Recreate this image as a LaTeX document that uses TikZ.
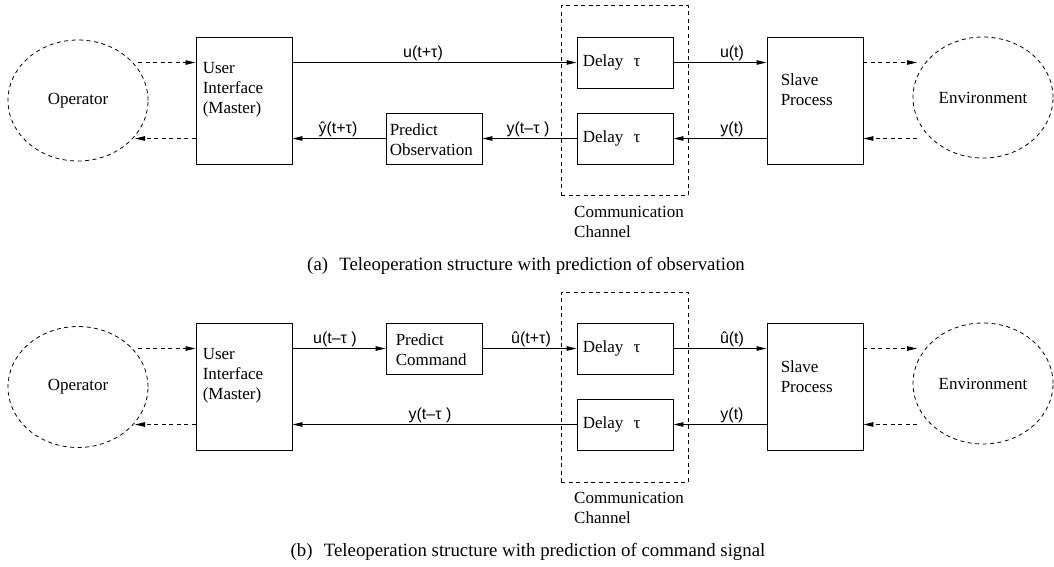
\documentclass[tikz,border=0pt]{standalone}
\usepackage{fontspec}
\setmainfont{Liberation Serif}
\newfontfamily\sigfont{Liberation Sans}
\usetikzlibrary{arrows.meta,shapes.geometric}

\begin{document}
\begin{tikzpicture}[x=1pt,y=-1pt,
  blockbox/.style={draw, line width=0.9pt, inner sep=0pt, minimum width=96pt},
  tallbox/.style={blockbox, minimum height=127pt},
  flatbox/.style={blockbox, minimum height=51pt},
  party/.style={draw, ellipse, dash pattern=on 4pt off 3.5pt, line width=0.8pt,
    minimum width=140pt, minimum height=121pt, inner sep=0pt, font=\fontsize{17}{20}\selectfont},
  chanbox/.style={draw, dash pattern=on 4pt off 3.5pt, line width=0.8pt,
    minimum width=127pt, minimum height=190pt, inner sep=0pt},
  sig/.style={-{Triangle[length=10pt,width=4.5pt]}, line width=0.9pt},
  dsig/.style={sig, dash pattern=on 4pt off 3.5pt},
  boxtext/.style={anchor=west, align=left, inner sep=0pt, font=\fontsize{17}{20}\selectfont},
  siglabel/.style={anchor=base, inner sep=0pt, font=\sigfont\fontsize{16}{20}\selectfont},
  caption/.style={anchor=base, inner sep=0pt, font=\fontsize{18.8}{24}\selectfont}]
\useasboundingbox (0,0) rectangle (1054,566);

% ---------- (a) prediction of observation ----------
\node[party] (opA) at (78,100.5) {Operator};
\node[tallbox] (uiA) at (244,100.5) {};
\node[boxtext] (uiTA) at ([xshift=7pt,yshift=10.5pt]uiA.west) {User\\Interface\\(Master)};
\node[flatbox] (predA) at (434,138.5) {};
\node[boxtext] (predTA) at ([xshift=4pt,yshift=-1.5pt]predA.west) {Predict\\Observation};
\node[chanbox] (chanA) at (624.5,100.5) {};
\node[flatbox] (dlyUA) at (625,62.5) {};
\node[boxtext] (dlyUTA) at ([xshift=6pt]dlyUA.west) {Delay\hspace{0.6em}τ};
\node[flatbox] (dlyDA) at (625,138.5) {};
\node[boxtext] (dlyDTA) at ([xshift=6pt]dlyDA.west) {Delay\hspace{0.6em}τ};
\node[boxtext, anchor=north west] (chanTA) at (574,206) {Communication\\Channel};
\node[tallbox] (slvA) at (815,100.5) {};
\node[boxtext] (slvTA) at ([xshift=14pt,yshift=10.5pt]slvA.west) {Slave\\Process};
\node[party] (envA) at (983,97.5) {Environment};

\coordinate (opOutA) at (138,62.5);
\coordinate (opInA) at (135,138.5);
\coordinate (envInA) at (917,62.5);
\coordinate (envOutA) at (917,138.5);

\draw[dsig] (opOutA) -- (opOutA -| uiA.west);
\draw[dsig] (opInA -| uiA.west) -- (opInA);
\draw[sig] (uiA.east |- dlyUA) -- (dlyUA.west);
\draw[sig] (dlyUA.east) -- (dlyUA.east -| slvA.west);
\draw[sig] (dlyDA.east -| slvA.west) -- (dlyDA.east);
\draw[sig] (dlyDA.west) -- (predA.east);
\draw[sig] (predA.west) -- (predA.west -| uiA.east);
\draw[dsig] (envInA -| slvA.east) -- (envInA);
\draw[dsig] (envOutA) -- (envOutA -| slvA.east);

\node[siglabel] (lUA) at (423,57) {u(t+τ)};
\node[siglabel] (lYhA) at (338,133) {ŷ(t+τ)};
\node[siglabel] (lYdA) at (528,133) {y(t–τ )};
\node[siglabel] (lUtA) at (732,57) {u(t)};
\node[siglabel] (lYtA) at (732,133) {y(t)};

\node[caption] (capA) at (526,270.5) {(a)\hspace{0.6em}Teleoperation structure with prediction of observation};

% ---------- (b) prediction of command signal ----------
\node[party] (opB) at (78,387) {Operator};
\node[tallbox] (uiB) at (244,386.5) {};
\node[boxtext] (uiTB) at ([xshift=7pt,yshift=10.5pt]uiB.west) {User\\Interface\\(Master)};
\node[flatbox] (predB) at (434,348.5) {};
\node[boxtext] (predTB) at ([xshift=10pt,yshift=-1.5pt]predB.west) {Predict\\Command};
\node[chanbox] (chanB) at (624.5,387) {};
\node[flatbox] (dlyUB) at (625,348.5) {};
\node[boxtext] (dlyUTB) at ([xshift=6pt]dlyUB.west) {Delay\hspace{0.6em}τ};
\node[flatbox] (dlyDB) at (625,424.5) {};
\node[boxtext] (dlyDTB) at ([xshift=6pt]dlyDB.west) {Delay\hspace{0.6em}τ};
\node[boxtext, anchor=north west] (chanTB) at (574,492.5) {Communication\\Channel};
\node[tallbox] (slvB) at (815,386.5) {};
\node[boxtext] (slvTB) at ([xshift=14pt,yshift=9.5pt]slvB.west) {Slave\\Process};
\node[party] (envB) at (983,383.5) {Environment};

\coordinate (opOutB) at (138,348.5);
\coordinate (opInB) at (135,424.5);
\coordinate (envInB) at (917,348.5);
\coordinate (envOutB) at (917,424.5);

\draw[dsig] (opOutB) -- (opOutB -| uiB.west);
\draw[dsig] (opInB -| uiB.west) -- (opInB);
\draw[sig] (uiB.east |- predB) -- (predB.west);
\draw[sig] (predB.east) -- (dlyUB.west);
\draw[sig] (dlyUB.east) -- (dlyUB.east -| slvB.west);
\draw[sig] (dlyDB.east -| slvB.west) -- (dlyDB.east);
\draw[sig] (dlyDB.west) -- (dlyDB.west -| uiB.east);
\draw[dsig] (envInB -| slvB.east) -- (envInB);
\draw[dsig] (envOutB) -- (envOutB -| slvB.east);

\node[siglabel] (lUdB) at (335,343) {u(t–τ )};
\node[siglabel] (lUhB) at (531,343) {û(t+τ)};
\node[siglabel] (lUtB) at (732,343) {û(t)};
\node[siglabel] (lYtB) at (732,419) {y(t)};
\node[siglabel] (lYdB) at (430,419) {y(t–τ )};

\node[caption] (capB) at (528,556) {(b)\hspace{0.6em}Teleoperation structure with prediction of command signal};
\end{tikzpicture}
\end{document}
